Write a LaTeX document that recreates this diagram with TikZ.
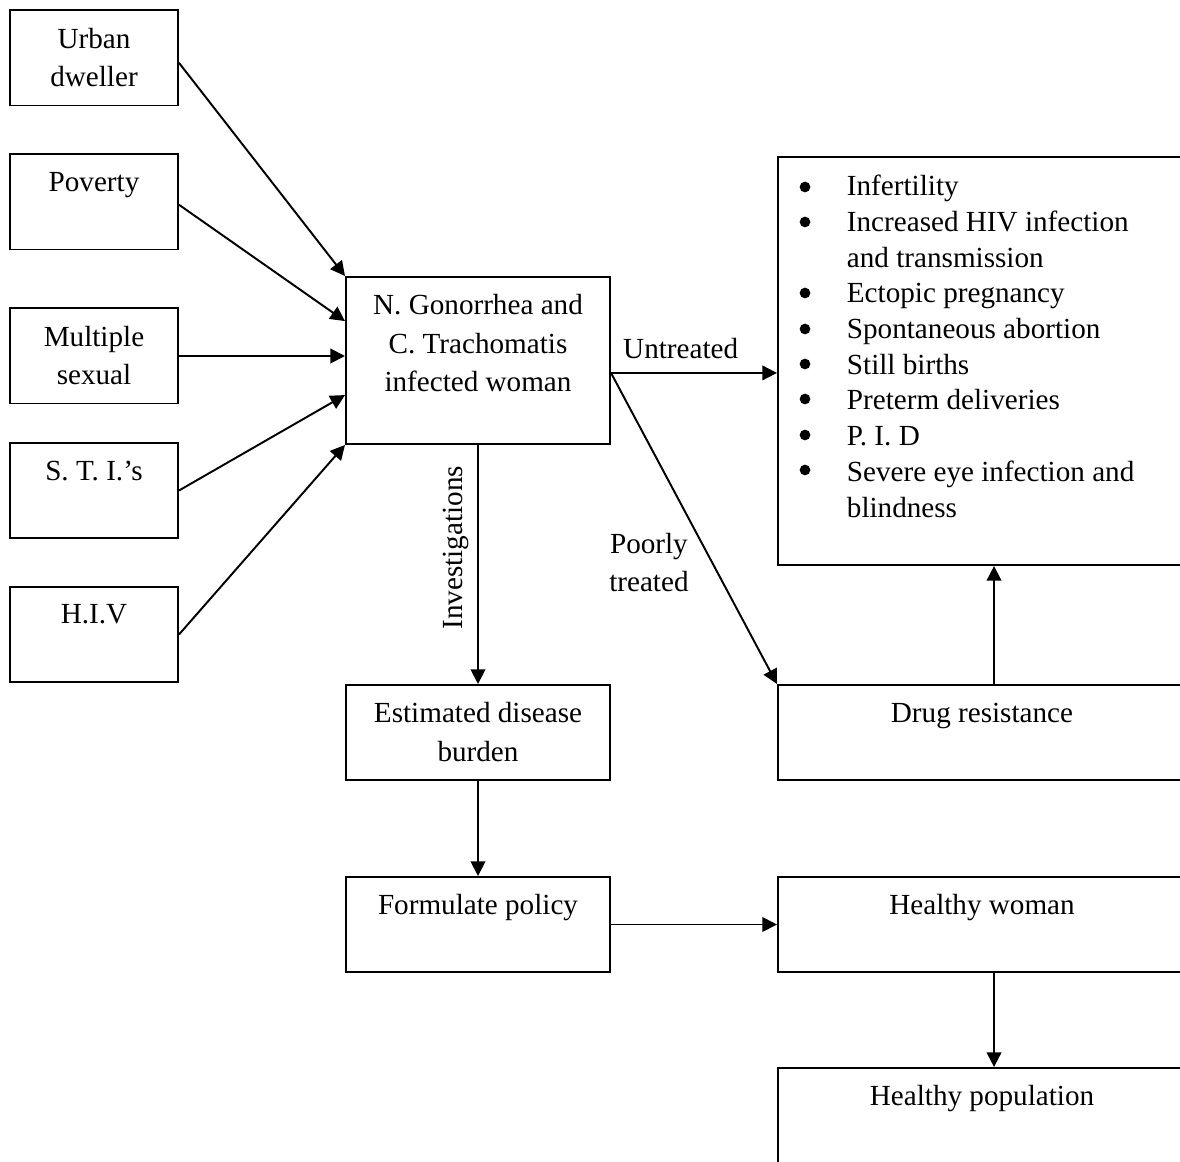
\documentclass[tikz,border=0pt]{standalone}
\usepackage{fontspec}
\setmainfont{Liberation Serif}
\usetikzlibrary{arrows.meta,positioning}

\tikzset{
  box/.style={draw,inner sep=0pt,minimum width=#1,minimum height=1.375cm},
  box/.default=2.431cm,
  txt/.style={anchor=north,align=center,inner sep=7.3pt},
}

\begin{document}
\begin{tikzpicture}[x=0.01447cm,y=-0.01447cm,line width=0.8pt,>={Triangle[length=6pt,width=6pt]},
  font=\fontsize{12}{15.7}\selectfont]
  \useasboundingbox (0,0) rectangle (1180,1161);
  % causes
  \node[box] (urban) at (94,58) {};
  \node[box] (poverty) at (94,202) {};
  \node[box] (multi) at (94,356) {};
  \node[box] (sti) at (94,490.5) {};
  \node[box] (hiv) at (94,634.5) {};
  \node[txt] (urbant) at (urban.north) {Urban\\dweller};
  \node[txt] (povertyt) at (poverty.north) {Poverty};
  \node[txt] (multit) at (multi.north) {Multiple\\sexual};
  \node[txt] (stit) at (sti.north) {S. T. I.’s};
  \node[txt] (hivt) at (hiv.north) {H.I.V};
  % infected woman
  \node[box=3.82cm,minimum height=2.416cm] (infect) at (478,360.5) {};
  \node[txt] (infectt) at (infect.north) {N. Gonorrhea and\\C. Trachomatis\\infected woman};
  % outcomes
  \node[box=5.904cm,minimum height=5.904cm] (effects) at (982,361) {};
  \node[anchor=north west,inner sep=0pt,font=\fontsize{12}{14.7}\selectfont] (effectst)
    at ([xshift=0.998cm,yshift=-0.198cm]effects.north west) {%
    \begin{tabular}[t]{@{}l@{}}
      Infertility\\
      Increased HIV infection\\
      and transmission\\
      Ectopic pregnancy\\
      Spontaneous abortion\\
      Still births\\
      Preterm deliveries\\
      P. I. D\\
      Severe eye infection and\\
      blindness
    \end{tabular}};
  % bullets
  \fill (805,187) circle (2.2pt); \fill (805,222) circle (2.2pt); \fill (805,293) circle (2.2pt);
  \fill (805,329) circle (2.2pt); \fill (805,364) circle (2.2pt); \fill (805,399) circle (2.2pt);
  \fill (805,435) circle (2.2pt); \fill (805,470) circle (2.2pt);
  \node[box=5.904cm] (drug) at (982,732.5) {};
  \node[txt] (drugt) at (drug.north) {Drug resistance};
  \node[box=3.82cm] (burden) at (478,732.5) {};
  \node[txt] (burdent) at (burden.north) {Estimated disease\\burden};
  \node[box=3.82cm] (policy) at (478,924.5) {};
  \node[txt] (policyt) at (policy.north) {Formulate policy};
  \node[box=5.904cm] (hwoman) at (982,924.5) {};
  \node[txt] (hwomant) at (hwoman.north) {Healthy woman};
  \node[box=5.904cm] (hpop) at (982,1115.5) {};
  \node[txt] (hpopt) at (hpop.north) {Healthy population};
  % arrows
  \draw[->] ([yshift=-0.07cm]urban.east) -- (infect.north west);
  \draw[->] ([yshift=-0.04cm]poverty.east) -- ([yshift=0.57cm]infect.west);
  \draw[->] (multi.east) -- (multi.east -| infect.west);
  \draw[->] (sti.east) -- ([yshift=-0.5cm]infect.west);
  \draw[->] (hiv.east) -- (infect.south west);
  \coordinate (infout) at ([yshift=-0.18cm]infect.east);
  \draw[->] (infout) -- (infout -| effects.west) node[pos=0.42,above,yshift=2pt] (untr) {Untreated};
  \draw[->] (infout) -- (drug.north west) node[pos=0.61,left=6pt,align=center] (poor) {Poorly\\treated};
  \draw[->] (infect.south) -- (burden.north) node[pos=0.43,rotate=90,anchor=south] (invest) {Investigations};
  \draw[->] (burden) -- (policy);
  \draw[->] (policy) -- (hwoman);
  \draw[->] ([xshift=0.174cm]drug.north) -- ([xshift=0.174cm]effects.south);
  \draw[->] ([xshift=0.174cm]hwoman.south) -- ([xshift=0.174cm]hpop.north);
\end{tikzpicture}
\end{document}
